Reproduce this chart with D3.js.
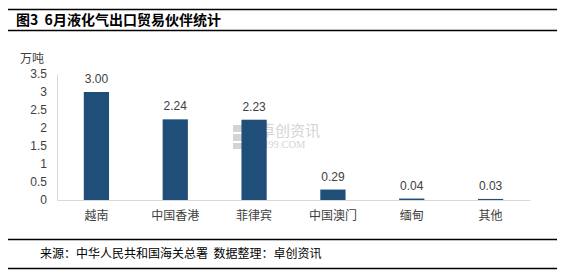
<!DOCTYPE html>
<html>
<head>
<meta charset="utf-8">
<script src="https://cdn.jsdelivr.net/npm/d3@7"></script>
<style>
 body { margin: 0; background: #fff; }
 svg { display: block; font-family: "Noto Sans CJK SC", "Noto Sans", sans-serif; }
</style>
</head>
<body>
<svg width="572" height="280"></svg>
<script>
// Chart data

var categories = ['越南', '中国香港', '菲律宾', '中国澳门', '缅甸', '其他'];
var values = [3.00, 2.24, 2.23, 0.29, 0.04, 0.03];
var yTicks = [0, 0.5, 1, 1.5, 2, 2.5, 3, 3.5];

var svg = d3.select('svg');

// Title and frame lines

svg.append('line').attr('x1', 8).attr('x2', 557).attr('y1', 9.5).attr('y2', 9.5)
 .attr('stroke', '#000').attr('stroke-width', 1.5);
svg.append('line').attr('x1', 8).attr('x2', 557).attr('y1', 30.5).attr('y2', 30.5)
 .attr('stroke', '#000').attr('stroke-width', 1.5);
svg.append('text').attr('x', 16).attr('y', 25)
 .attr('font-size', 14).attr('font-weight', 'bold').attr('fill', '#000')
 .attr('xml:space', 'preserve')
 .text('图3  6月液化气出口贸易伙伴统计');

svg.append('line').attr('x1', 8).attr('x2', 557).attr('y1', 239.5).attr('y2', 239.5)
 .attr('stroke', '#000').attr('stroke-width', 1.5);
svg.append('line').attr('x1', 8).attr('x2', 557).attr('y1', 268.5).attr('y2', 268.5)
 .attr('stroke', '#000').attr('stroke-width', 1.5);
svg.append('text').attr('x', 40).attr('y', 258)
 .attr('font-size', 12).attr('fill', '#000')
 .attr('xml:space', 'preserve')
 .text('来源：中华人民共和国海关总署  数据整理：卓创资讯');

// Scales

var x = d3.scaleBand()
 .domain(categories)
 .range([57, 530])
 .paddingInner(0.68)
 .paddingOuter(0.34);

var y = d3.scaleLinear()
 .domain([0, 3.5])
 .range([200, 74]);

// Watermark

var wm = svg.append('g').attr('fill', '#d4d4d4');
wm.append('rect').attr('x', 233).attr('y', 125).attr('width', 18).attr('height', 7);
wm.append('rect').attr('x', 233).attr('y', 134).attr('width', 18).attr('height', 7);
wm.append('rect').attr('x', 233).attr('y', 143).attr('width', 18).attr('height', 6);
wm.append('text').attr('x', 260).attr('y', 136).attr('font-size', 15).text('卓创资讯');
wm.append('text').attr('x', 252).attr('y', 148).attr('font-size', 10.5)
 .attr('font-family', 'Liberation Serif, serif').text('SCI99.COM');

// Axes

var gy = svg.append('g')
 .attr('transform', 'translate(57,0)')
 .call(d3.axisLeft(y).tickValues(yTicks).tickSize(0).tickPadding(10).tickFormat(d3.format('')));
gy.select('.domain').attr('stroke', '#d9d9d9');
gy.selectAll('text').attr('font-size', 12).attr('fill', '#404040')
 .attr('font-family', 'Liberation Sans, Arial, sans-serif');

svg.append('text').attr('x', 20).attr('y', 63).attr('font-size', 12).attr('fill', '#404040').text('万吨');

// Bars

svg.append('g')
 .selectAll('rect')
 .data(values)
 .enter().append('rect')
 .attr('x', function(d, i) { return x(categories[i]); })
 .attr('y', function(d) { return y(d); })
 .attr('width', x.bandwidth())
 .attr('height', function(d) { return 200 - y(d); })
 .attr('fill', '#1f4e79');

svg.append('g')
 .selectAll('text')
 .data(values)
 .enter().append('text')
 .attr('x', function(d, i) { return x(categories[i]) + x.bandwidth() / 2; })
 .attr('y', function(d) { return y(d) - 9; })
 .attr('text-anchor', 'middle')
 .attr('font-size', 12)
 .attr('font-family', 'Liberation Sans, Arial, sans-serif')
 .attr('fill', '#404040')
 .text(function(d) { return d.toFixed(2); });

var gx = svg.append('g')
 .attr('transform', 'translate(0,200)')
 .call(d3.axisBottom(x).tickSize(0).tickPadding(11));
gx.select('.domain').attr('stroke', '#d9d9d9');
gx.selectAll('text').attr('font-size', 12).attr('fill', '#404040')
 .attr('font-family', 'Noto Sans CJK SC, sans-serif');
</script>
</body>
</html>
